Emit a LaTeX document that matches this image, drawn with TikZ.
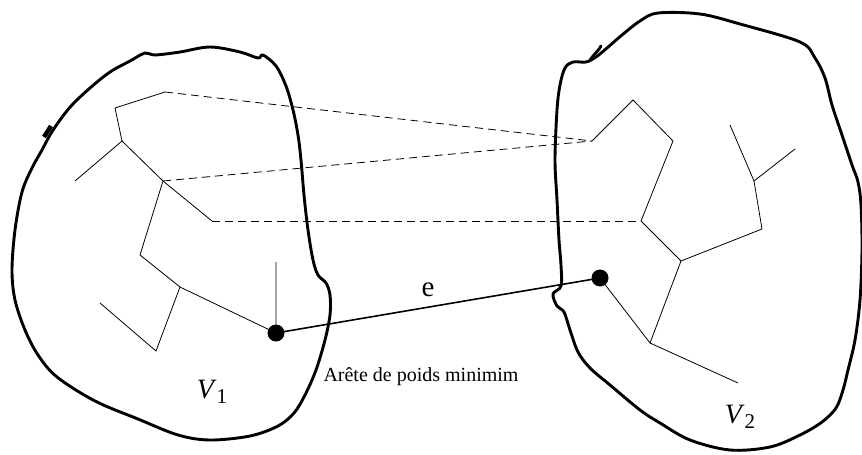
\documentclass[tikz,border=0pt]{standalone}
\usepackage{fontspec}
\setmainfont{Liberation Serif}

\newcommand{\setname}[1]{\fontsize{28}{30}\selectfont\textit{V}\raisebox{-5pt}{\fontsize{21}{22}\selectfont #1}}

\begin{document}
\begin{tikzpicture}[x=1pt, y=-1pt,
    blob/.style={line width=2.9pt, line join=round},
    tree/.style={line width=0.8pt},
    link/.style={line width=0.8pt, dash pattern=on 8pt off 5pt},
    vertex/.style={circle, fill, inner sep=0pt, minimum size=17pt}]

    \useasboundingbox (0,0) rectangle (862,455);

    % --- Outlines of the two sets ---
    \draw[blob] plot[smooth cycle, tension=0.55] coordinates {
        (263,55) (276,66) (286,86) (293,110) (298,135) (301,160) (304,195)
        (308,230) (313,260) (318,275) (326,283) (330,295) (330,315) (325,340)
        (316,370) (305,395) (294,413) (278,426) (250,436) (210,440) (178,435)
        (138,419) (95,401) (57,377) (38,355) (25,330) (15,300) (12,270)
        (15,230) (22,192) (32,168) (42,150) (50,135) (60,120) (72,105)
        (90,88) (110,72) (130,61) (145,53) (155,55) (180,52) (210,47)
        (240,52) (258,58)};
    \draw[line width=4.5pt] (44,137) -- (51,126);

    \draw[blob] plot[smooth cycle, tension=0.55] coordinates {
        (658,13) (700,14) (740,24) (800,42) (815,58) (825,78) (832,105)
        (842,135) (852,165) (858,182) (861,205) (862,250) (860,300) (855,340)
        (848,370) (843,390) (836,408) (822,422) (800,435) (770,447) (730,450)
        (690,440) (660,423) (640,410) (610,385) (590,368) (578,352) (570,330)
        (564,312) (557,306) (553,294) (561,286) (561,265) (559,240) (557,200)
        (555,160) (557,110) (560,85) (565,68) (573,62) (586,62) (596,57)
        (607,48) (622,35) (640,21)};
    \draw[line width=2.9pt, line cap=round] (590,60) .. controls (596,52) and (599,50) .. (601,46);

    % --- Spanning tree in V1 ---
    \coordinate (a1) at (165,92);
    \coordinate (b1) at (115,108);
    \coordinate (c1) at (122,141);
    \coordinate (d1) at (75,181);
    \coordinate (f1) at (163,181);
    \coordinate (g1) at (212,221);
    \coordinate (h1) at (140,255);
    \coordinate (i1) at (180,287);
    \coordinate (j1) at (100,303);
    \coordinate (k1) at (156,351);
    \coordinate (l1) at (276,262);
    \node[vertex] (u1) at (276,333) {};

    \draw[tree] (a1) -- (b1) -- (c1) -- (d1);
    \draw[tree] (c1) -- (f1) -- (g1);
    \draw[tree] (f1) -- (h1) -- (i1) -- (k1) -- (j1);
    \draw[tree] (i1) -- (u1.center) -- (l1);

    % --- Spanning tree in V2 ---
    \coordinate (p2) at (592,141);
    \coordinate (q2) at (633,100);
    \coordinate (r2) at (673,141);
    \coordinate (s2) at (641,221);
    \coordinate (t2) at (681,261);
    \coordinate (w2) at (762,229);
    \coordinate (x2) at (754,181);
    \coordinate (y2) at (730,125);
    \coordinate (z2) at (795,149);
    \coordinate (m2) at (650,343);
    \coordinate (n2) at (738,383);
    \node[vertex] (u2) at (600,278) {};

    \draw[tree] (p2) -- (q2) -- (r2) -- (s2) -- (t2) -- (w2) -- (x2) -- (y2);
    \draw[tree] (x2) -- (z2);
    \draw[tree] (t2) -- (m2) -- (n2);
    \draw[tree] (m2) -- (u2.center);

    % --- Candidate edges between the sets ---
    \draw[link] (a1) -- (p2);
    \draw[link] (f1) -- (p2);
    \draw[link] (g1) -- (s2);

    % --- Minimum edge ---
    \draw[line width=1.6pt] (u1.center) -- (u2.center);
    \node[font=\fontsize{29}{30}\selectfont] (elabel) at (428,290) {e};
    \node[font=\fontsize{20}{22}\selectfont] (caption) at (421,377) {Arête de poids minimim};

    % --- Set names ---
    \node (name1) at (212,392) {\setname{1}};
    \node (name2) at (740,417) {\setname{2}};

\end{tikzpicture}
\end{document}
